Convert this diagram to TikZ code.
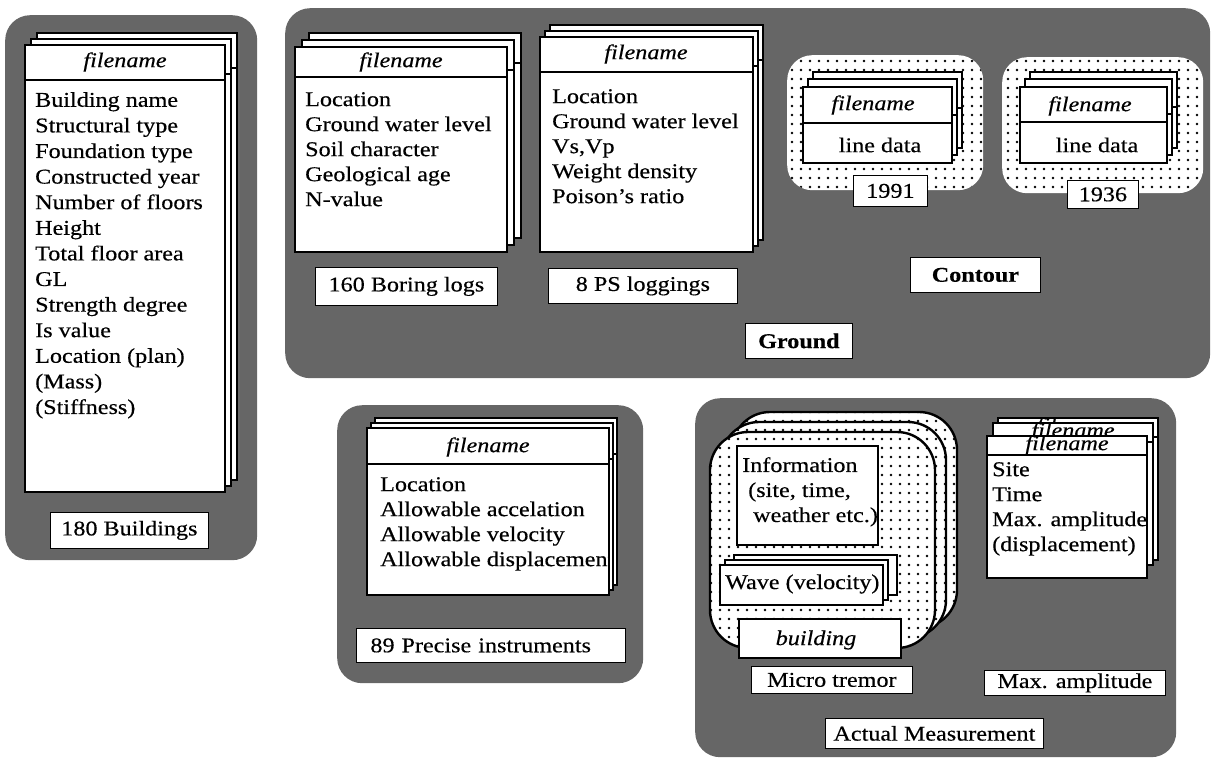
\documentclass[tikz,border=0pt]{standalone}
\usepackage{fontspec}
\setmainfont{Liberation Serif}[FakeStretch=1.15, FakeBold=0.4]
\usetikzlibrary{patterns.meta}

\begin{document}
\begin{tikzpicture}[
        x=1pt, y=-1pt,
        font=\fontsize{21}{25}\selectfont,
        panel/.style={fill=black!60, rounded corners=25pt, anchor=north west, inner sep=0}
        ]
    % Define styles
    \tikzstyle{card} = [draw, line width=2.4pt, fill=white, anchor=north west, inner sep=0, outer sep=0]
    \tikzstyle{divider} = [line width=2.4pt]
    \tikzstyle{tag} = [draw, line width=0.8pt, fill=white, anchor=north west, inner sep=0]
    \tikzstyle{head} = [font=\fontsize{21}{25}\selectfont\itshape, inner sep=0]
    \tikzstyle{items} = [align=left, anchor=north west, inner sep=0]
    \tikzstyle{dotbox} = [fill=white, postaction={pattern={Dots[distance=9pt, radius=1.3pt]}}, anchor=north west, inner sep=0]
    \tikzstyle{tremor} = [dotbox, draw, line width=2.4pt, rounded corners=38pt, outer sep=0]

    \useasboundingbox (0,0) rectangle (1215,763);

    % Define the panels
    \node[panel, minimum width=252pt, minimum height=545pt] (bldpanel) at (5,15) {};
    \node[panel, minimum width=925pt, minimum height=370pt] (gndpanel) at (285,8) {};
    \node[panel, minimum width=306pt, minimum height=278pt] (instpanel) at (337,405) {};
    \node[panel, minimum width=481pt, minimum height=359pt] (actpanel) at (695,398) {};

    % Buildings
    \node[card, minimum width=200pt, minimum height=447pt] (bld3) at (37,33) {};
    \draw[divider] ([yshift=-35pt]bld3.north west) -- ([yshift=-35pt]bld3.north east);
    \node[card, minimum width=200pt, minimum height=447pt] (bld2) at (31,39) {};
    \draw[divider] ([yshift=-35pt]bld2.north west) -- ([yshift=-35pt]bld2.north east);
    \node[card, minimum width=200pt, minimum height=447pt] (bld1) at (25,45) {};
    \draw[divider] ([yshift=-35pt]bld1.north west) -- ([yshift=-35pt]bld1.north east);
    \node[head] (bldhead) at (125,62) {filename};
    \node[items, font=\fontsize{21}{25.6}\selectfont] (bldtext) at (35,92) {Building name\\Structural type\\Foundation type\\Constructed year\\Number of floors\\Height\\Total floor area\\GL\\Strength degree\\Is value\\Location (plan)\\(Mass)\\(Stiffness)};
    \node[tag, minimum width=158pt, minimum height=36pt] (bldtag) at (50,512) {180 Buildings};

    % Boring logs
    \node[card, minimum width=212pt, minimum height=205pt] (bor3) at (309,33) {};
    \draw[divider] ([yshift=-30pt]bor3.north west) -- ([yshift=-30pt]bor3.north east);
    \node[card, minimum width=212pt, minimum height=205pt] (bor2) at (302,40) {};
    \draw[divider] ([yshift=-30pt]bor2.north west) -- ([yshift=-30pt]bor2.north east);
    \node[card, minimum width=212pt, minimum height=205pt] (bor1) at (295,47) {};
    \draw[divider] ([yshift=-30pt]bor1.north west) -- ([yshift=-30pt]bor1.north east);
    \node[head] (borhead) at (401,62) {filename};
    \node[items] (bortext) at (305,92) {Location\\Ground water level\\Soil character\\Geological age\\N-value};
    \node[tag, minimum width=182pt, minimum height=38pt] (bortag) at (315,267) {160 Boring logs};

    % PS loggings
    \node[card, minimum width=213pt, minimum height=215pt] (ps3) at (550,25) {};
    \draw[divider] ([yshift=-35pt]ps3.north west) -- ([yshift=-35pt]ps3.north east);
    \node[card, minimum width=213pt, minimum height=215pt] (ps2) at (545,31) {};
    \draw[divider] ([yshift=-35pt]ps2.north west) -- ([yshift=-35pt]ps2.north east);
    \node[card, minimum width=213pt, minimum height=215pt] (ps1) at (540,37) {};
    \draw[divider] ([yshift=-35pt]ps1.north west) -- ([yshift=-35pt]ps1.north east);
    \node[head] (pshead) at (646,54) {filename};
    \node[items] (pstext) at (552,89) {Location\\Ground water level\\Vs,Vp\\Weight density\\Poison's ratio};
    \node[tag, minimum width=189pt, minimum height=35pt] (pstag) at (548,268) {8 PS loggings};

    % Contour 1991
    \node[dotbox, rounded corners=25pt, minimum width=196pt, minimum height=135pt] (cdots91) at (787,55) {};
    \node[card, minimum width=149pt, minimum height=76pt] (c91c) at (813,72) {};
    \draw[divider] ([yshift=-36pt]c91c.north west) -- ([yshift=-36pt]c91c.north east);
    \node[card, minimum width=149pt, minimum height=76pt] (c91b) at (808,79) {};
    \draw[divider] ([yshift=-36pt]c91b.north west) -- ([yshift=-36pt]c91b.north east);
    \node[card, minimum width=149pt, minimum height=76pt] (c91a) at (803,87) {};
    \draw[divider] ([yshift=-36pt]c91a.north west) -- ([yshift=-36pt]c91a.north east);
    \node[head] (c91head) at (873,105) {filename};
    \node[inner sep=0] (c91text) at (880,145) {line data};
    \node[tag, minimum width=74pt, minimum height=31pt] (c91tag) at (853,175) {1991};

    % Contour 1936
    \node[dotbox, rounded corners=25pt, minimum width=201pt, minimum height=136pt] (cdots36) at (1002,57) {};
    \node[card, minimum width=147pt, minimum height=76pt] (c36c) at (1030,72) {};
    \draw[divider] ([yshift=-35pt]c36c.north west) -- ([yshift=-35pt]c36c.north east);
    \node[card, minimum width=147pt, minimum height=76pt] (c36b) at (1025,79) {};
    \draw[divider] ([yshift=-35pt]c36b.north west) -- ([yshift=-35pt]c36b.north east);
    \node[card, minimum width=147pt, minimum height=76pt] (c36a) at (1020,87) {};
    \draw[divider] ([yshift=-35pt]c36a.north west) -- ([yshift=-35pt]c36a.north east);
    \node[head] (c36head) at (1090,106) {filename};
    \node[inner sep=0] (c36text) at (1097,145) {line data};
    \node[tag, minimum width=71pt, minimum height=28pt] (c36tag) at (1067,180) {1936};

    % Ground labels
    \node[tag, minimum width=130pt, minimum height=35pt, font=\fontsize{21}{25}\selectfont\bfseries] (contag) at (910,257) {Contour};
    \node[tag, minimum width=107pt, minimum height=35pt, font=\fontsize{21}{25}\selectfont\bfseries] (gndtag) at (745,323) {Ground};

    % Precise instruments
    \node[card, minimum width=242pt, minimum height=167pt] (pi3) at (375,418) {};
    \draw[divider] ([yshift=-36pt]pi3.north west) -- ([yshift=-36pt]pi3.north east);
    \node[card, minimum width=242pt, minimum height=167pt] (pi2) at (371,423) {};
    \draw[divider] ([yshift=-36pt]pi2.north west) -- ([yshift=-36pt]pi2.north east);
    \node[card, minimum width=242pt, minimum height=167pt] (pi1) at (367,428) {};
    \draw[divider] ([yshift=-36pt]pi1.north west) -- ([yshift=-36pt]pi1.north east);
    \node[head] (pihead) at (488,447) {filename};
    \begin{scope}
        \clip (pi1.north west) rectangle ([xshift=-1.2pt]pi1.south east);
        \node[items] (pitext) at (380,477) {Location\\Allowable accelation\\Allowable velocity\\Allowable displacement};
    \end{scope}
    \node[tag, minimum width=269pt, minimum height=34pt, text width=241pt, inner xsep=14pt, align=left] (pitag) at (356,628) {89 Precise instruments};

    % Micro tremor
    \node[tremor, minimum width=225pt, minimum height=216pt] (mt3) at (732,412) {};
    \node[tremor, minimum width=225pt, minimum height=216pt] (mt2) at (721,422) {};
    \node[tremor, minimum width=225pt, minimum height=216pt] (mt1) at (710,432) {};
    \node[card, line width=2pt, minimum width=141pt, minimum height=99pt] (info) at (737,446) {};
    \node[items] (infotext) at (742,457) {Information\\\hspace*{6pt}(site, time,\\\hspace*{11pt}weather etc.)};
    \node[card, line width=2pt, minimum width=163pt, minimum height=40pt] (wave3) at (734,555) {};
    \node[card, line width=2pt, minimum width=163pt, minimum height=40pt] (wave2) at (725,560) {};
    \node[anchor=west, inner sep=0] (wave2text) at (730,579) {Wave (velocity)};
    \node[card, line width=2pt, minimum width=163pt, minimum height=40pt] (wave1) at (720,565) {};
    \node[anchor=west, inner sep=0] (wave1text) at (725,584) {Wave (velocity)};
    \node[card, line width=2pt, minimum width=162pt, minimum height=39pt] (bldg) at (739,619) {};
    \node[head] (bldgtext) at (816,640) {building};

    % Max. amplitude
    \node[card, minimum width=160pt, minimum height=142pt] (ma3) at (998,418) {};
    \draw[divider] ([yshift=-19pt]ma3.north west) -- ([yshift=-19pt]ma3.north east);
    \node[head] (ma3head) at (1078,427) {filename};
    \node[card, minimum width=160pt, minimum height=142pt] (ma2) at (993,423) {};
    \draw[divider] ([yshift=-19pt]ma2.north west) -- ([yshift=-19pt]ma2.north east);
    \node[head] (ma2head) at (1073,432) {filename};
    \node[card, minimum width=160pt, minimum height=142pt] (ma1) at (987,436) {};
    \draw[divider] ([yshift=-19pt]ma1.north west) -- ([yshift=-19pt]ma1.north east);
    \node[head] (ma1head) at (1067,445) {filename};
    \node[items] (matext) at (992,462) {Site\\Time\\Max. amplitude\\(displacement)};

    % Actual measurement labels
    \node[tag, minimum width=161pt, minimum height=27pt] (mttag) at (751,666) {Micro tremor};
    \node[tag, minimum width=181pt, minimum height=25pt] (matag) at (984,670) {Max. amplitude};
    \node[tag, minimum width=218pt, minimum height=30pt] (acttag) at (825,718) {Actual Measurement};

\end{tikzpicture}
\end{document}
